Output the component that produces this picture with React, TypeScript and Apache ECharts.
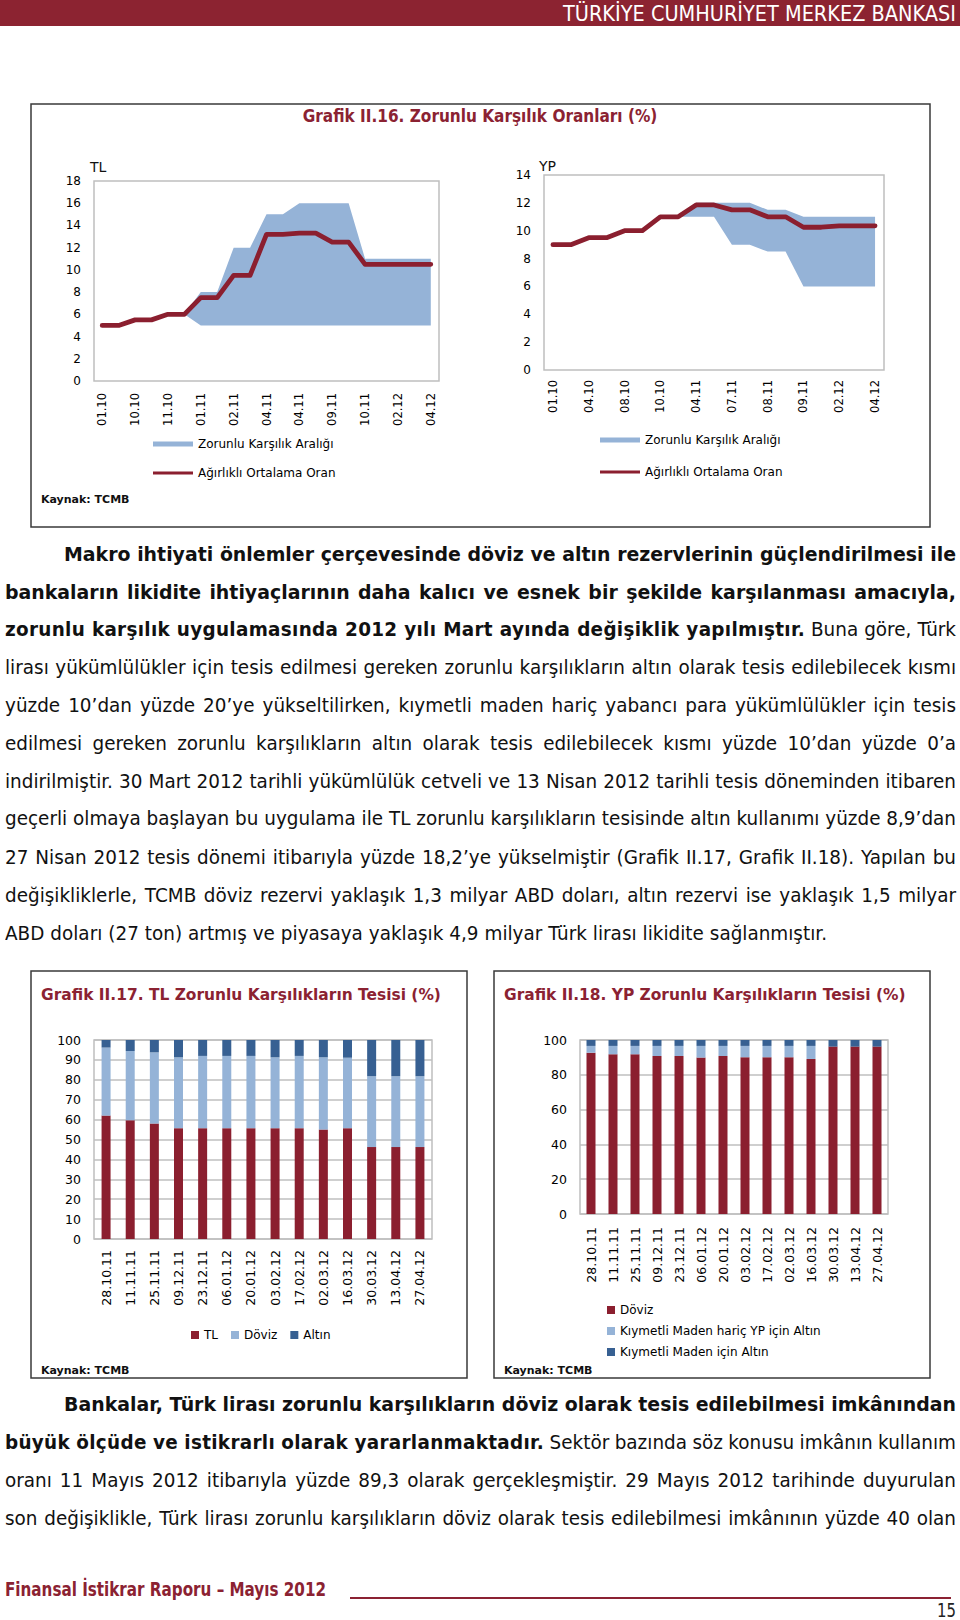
import React, { useEffect, useLayoutEffect, useRef, useState } from 'react';
import * as echarts from 'echarts';

const FONT = "'DejaVu Sans', Verdana, sans-serif";
const RED = '#8B1F2F';
const TITLE_RED = '#8B2232';
const HEADER_RED = '#8C2331';
const LIGHT_BLUE = '#95B3D7';
const DARK_BLUE = '#376092';
const GRID_GRAY = '#BFBFBF';

// ---------- Grafik II.16 (TL) ----------
const TL_DATES = ['01.10', '01.10', '10.10', '10.10', '11.10', '11.10', '01.11', '01.11', '02.11', '02.11', '04.11', '04.11', '04.11', '04.11', '09.11', '09.11', '10.11', '10.11', '02.12', '02.12', '04.12'];
const TL_AVG = [5.0, 5.0, 5.5, 5.5, 6.0, 6.0, 7.5, 7.5, 9.5, 9.5, 13.2, 13.2, 13.3, 13.3, 12.5, 12.5, 10.5, 10.5, 10.5, 10.5, 10.5];
const TL_RANGE_LOW = [null, null, null, null, null, 6, 5, 5, 5, 5, 5, 5, 5, 5, 5, 5, 5, 5, 5, 5, 5];
const TL_RANGE_HIGH = [null, null, null, null, null, 6, 8, 8, 12, 12, 15, 15, 16, 16, 16, 16, 11, 11, 11, 11, 11];
const TL_Y_TICKS = { min: 0, max: 18, interval: 2 };

// ---------- Grafik II.16 (YP) ----------
const YP_DATES = ['01.10', '01.10', '04.10', '04.10', '08.10', '08.10', '10.10', '10.10', '04.11', '04.11', '07.11', '07.11', '08.11', '08.11', '09.11', '09.11', '02.12', '02.12', '04.12'];
const YP_AVG = [9.0, 9.0, 9.5, 9.5, 10.0, 10.0, 11.0, 11.0, 11.85, 11.85, 11.5, 11.5, 11.0, 11.0, 10.25, 10.25, 10.35, 10.35, 10.35];
const YP_RANGE_LOW = [null, null, null, null, null, null, null, 11, 11, 11, 9, 9, 8.5, 8.5, 6, 6, 6, 6, 6];
const YP_RANGE_HIGH = [null, null, null, null, null, null, null, 11, 12, 12, 12, 12, 11.5, 11.5, 11, 11, 11, 11, 11];
const YP_Y_TICKS = { min: 0, max: 14, interval: 2 };

// ---------- Grafik II.17 / II.18 ----------
const TESIS_DATES = ['28.10.11', '11.11.11', '25.11.11', '09.12.11', '23.12.11', '06.01.12', '20.01.12', '03.02.12', '17.02.12', '02.03.12', '16.03.12', '30.03.12', '13.04.12', '27.04.12'];
const TLT_TL = [62.0, 59.7, 58.0, 55.7, 55.7, 55.7, 55.7, 55.7, 55.7, 55.0, 55.7, 46.2, 46.2, 46.2];
const TLT_DOVIZ = [34.2, 34.8, 35.8, 35.6, 36.3, 36.3, 36.3, 35.6, 36.3, 36.3, 35.4, 35.6, 35.6, 35.6];
const TLT_ALTIN = [3.8, 5.5, 6.2, 8.7, 8.0, 8.0, 8.0, 8.7, 8.0, 8.7, 8.9, 18.2, 18.2, 18.2];

const YPT_DOVIZ = [92.7, 91.8, 91.8, 90.8, 90.8, 89.9, 90.8, 90.1, 90.1, 90.1, 89.1, 96.2, 96.2, 96.2];
const YPT_KM_HARIC = [3.9, 4.8, 4.8, 5.8, 5.8, 6.7, 5.8, 6.5, 6.5, 6.5, 7.5, 0, 0, 0];
const YPT_KM = [3.4, 3.4, 3.4, 3.4, 3.4, 3.4, 3.4, 3.4, 3.4, 3.4, 3.4, 3.8, 3.8, 3.8];

const N_BAND = 'Zorunlu Karşılık Aralığı';
const N_AVG = 'Ağırlıklı Ortalama Oran';

function textWidth(text: string, font: string): number {
  const c = document.createElement('canvas').getContext('2d');
  if (!c) return 1;
  c.font = font;
  return c.measureText(text).width || 1;
}

function fitTitle(text: string, x: number, y: number, w: number, size: number, align: string) {
  const font = `bold ${size}px "DejaVu Sans"`;
  const sx = w / textWidth(text, font);
  return {
    type: 'text', x, y, scaleX: sx, silent: true,
    style: { text, font, fill: TITLE_RED, align, textAlign: align, verticalAlign: 'middle', textVerticalAlign: 'middle' },
  };
}

function plainText(text: string, x: number, y: number, size: number, bold = false, align = 'left') {
  return {
    type: 'text', x, y, silent: true,
    style: { text, font: `${bold ? 'bold ' : ''}${size}px "DejaVu Sans"`, fill: '#111', align, textAlign: align, verticalAlign: 'middle', textVerticalAlign: 'middle' },
  };
}

function boxRect(x: number, y: number, w: number, h: number) {
  return { type: 'rect', silent: true, shape: { x, y, width: w, height: h }, style: { fill: 'none', stroke: '#3A3A3A', lineWidth: 1.5 } };
}

const bandDiff = (hi: (number | null)[], lo: (number | null)[]) =>
  hi.map((h, i) => (h == null || lo[i] == null ? null : Math.round((h - (lo[i] as number)) * 100) / 100));

const labelStyle = (size: number) => ({ fontFamily: FONT, fontSize: size, color: '#000' });

function buildTop() {
  const legendBase = {
    selectedMode: false, icon: 'rect', itemWidth: 40, padding: 0, orient: 'horizontal',
    textStyle: labelStyle(12), itemStyle: { borderWidth: 0 },
  };
  const catAxis = (gi: number, data: string[], margin: number) => ({
    type: 'category', gridIndex: gi, data, boundaryGap: true,
    axisLine: { show: false }, axisTick: { show: false }, splitLine: { show: false },
    axisLabel: { interval: 1, rotate: 90, margin, ...labelStyle(11.5) },
  });
  const valAxis = (gi: number, t: { min: number; max: number; interval: number }) => ({
    type: 'value', gridIndex: gi, min: t.min, max: t.max, interval: t.interval,
    axisLine: { show: false }, axisTick: { show: false }, splitLine: { show: false },
    axisLabel: { margin: 13, ...labelStyle(12) },
  });
  const bandSeries = (idx: number, stack: string, lo: (number | null)[], hi: (number | null)[]) => [
    {
      name: '_low' + stack, type: 'line', xAxisIndex: idx, yAxisIndex: idx, stack, data: lo,
      symbol: 'none', silent: true, lineStyle: { opacity: 0, width: 0 }, areaStyle: { opacity: 0 }, itemStyle: { color: LIGHT_BLUE },
    },
    {
      name: N_BAND, type: 'line', xAxisIndex: idx, yAxisIndex: idx, stack, data: bandDiff(hi, lo),
      symbol: 'none', silent: true, lineStyle: { width: 0, color: LIGHT_BLUE }, itemStyle: { color: LIGHT_BLUE },
      areaStyle: { color: LIGHT_BLUE, opacity: 1 },
    },
  ];
  const avgSeries = (idx: number, data: number[]) => ({
    name: N_AVG, type: 'line', xAxisIndex: idx, yAxisIndex: idx, data, symbol: 'none', silent: true, z: 5,
    lineStyle: { width: 4.8, color: RED, join: 'round', cap: 'round' }, itemStyle: { color: RED },
  });
  return {
    animation: false,
    grid: [
      { left: 94, top: 81, width: 345, height: 200, show: true, borderColor: GRID_GRAY, borderWidth: 1.5, outerBoundsMode: 'none' },
      { left: 544, top: 75, width: 340, height: 195, show: true, borderColor: GRID_GRAY, borderWidth: 1.5, outerBoundsMode: 'none' },
    ],
    xAxis: [catAxis(0, TL_DATES, 12), catAxis(1, YP_DATES, 10)],
    yAxis: [valAxis(0, TL_Y_TICKS), valAxis(1, YP_Y_TICKS)],
    legend: [
      { ...legendBase, left: 153, top: 338, itemHeight: 5, data: [{ name: N_BAND, itemStyle: { color: LIGHT_BLUE, borderWidth: 0 } }] },
      { ...legendBase, left: 153, top: 367, itemHeight: 3, data: [{ name: N_AVG, itemStyle: { color: RED, borderWidth: 0 } }] },
      { ...legendBase, left: 600, top: 334, itemHeight: 5, data: [{ name: N_BAND, itemStyle: { color: LIGHT_BLUE, borderWidth: 0 } }] },
      { ...legendBase, left: 600, top: 366, itemHeight: 3, data: [{ name: N_AVG, itemStyle: { color: RED, borderWidth: 0 } }] },
    ],
    series: [
      ...bandSeries(0, 'tl', TL_RANGE_LOW, TL_RANGE_HIGH),
      avgSeries(0, TL_AVG),
      ...bandSeries(1, 'yp', YP_RANGE_LOW, YP_RANGE_HIGH),
      avgSeries(1, YP_AVG),
    ],
    graphic: {
      elements: [
        boxRect(31, 4, 899, 423),
        fitTitle('Grafik II.16. Zorunlu Karşılık Oranları (%)', 480, 16, 355, 17, 'center'),
        plainText('TL', 90, 67, 14),
        plainText('YP', 539, 66, 14),
        plainText('Kaynak: TCMB', 41, 399, 11, true),
      ],
    },
  };
}

function buildBars(opts: {
  boxX: number; titleX: number; title: string; titleW: number;
  grid: { left: number; top: number; width: number; height: number };
  yInterval: number; xMargin: number;
  series: { name: string; data: number[]; color: string }[];
  legend: any;
}) {
  return {
    animation: false,
    grid: { ...opts.grid, show: true, borderColor: GRID_GRAY, borderWidth: 1.5, outerBoundsMode: 'none' },
    xAxis: {
      type: 'category', data: TESIS_DATES, axisLine: { show: false }, axisTick: { show: false },
      axisLabel: { interval: 0, rotate: 90, margin: opts.xMargin, ...labelStyle(12.5) },
    },
    yAxis: {
      type: 'value', min: 0, max: 100, interval: opts.yInterval,
      axisLine: { show: false }, axisTick: { show: false },
      splitLine: { show: true, lineStyle: { color: GRID_GRAY, width: 1.5 } },
      axisLabel: { margin: 13, ...labelStyle(12.5) },
    },
    legend: {
      selectedMode: false, icon: 'rect', itemWidth: 8, itemHeight: 8, padding: 0,
      textStyle: labelStyle(12), itemStyle: { borderWidth: 0 },
      data: opts.series.map((s) => ({ name: s.name, itemStyle: { color: s.color, borderWidth: 0 } })),
      ...opts.legend,
    },
    series: opts.series.map((s) => ({
      name: s.name, type: 'bar', stack: 'total', data: s.data, barWidth: 9, silent: true,
      itemStyle: { color: s.color },
    })),
    graphic: {
      elements: [
        boxRect(opts.boxX, 11, 436, 407),
        fitTitle(opts.title, opts.titleX, 35, opts.titleW, 15, 'left'),
        plainText('Kaynak: TCMB', opts.titleX, 410, 11, true),
      ],
    },
  };
}

function buildTLBars() {
  return buildBars({
    boxX: 31, titleX: 41, title: 'Grafik II.17. TL Zorunlu Karşılıkların Tesisi (%)', titleW: 400,
    grid: { left: 94, top: 80, width: 338, height: 199 }, yInterval: 10, xMargin: 11,
    series: [
      { name: 'TL', data: TLT_TL, color: RED },
      { name: 'Döviz', data: TLT_DOVIZ, color: LIGHT_BLUE },
      { name: 'Altın', data: TLT_ALTIN, color: DARK_BLUE },
    ],
    legend: { orient: 'horizontal', left: 191, top: 369, itemGap: 13 },
  });
}

function buildYPBars() {
  return buildBars({
    boxX: 14, titleX: 24, title: 'Grafik II.18. YP Zorunlu Karşılıkların Tesisi (%)', titleW: 402,
    grid: { left: 100, top: 80, width: 308, height: 174 }, yInterval: 20, xMargin: 13,
    series: [
      { name: 'Döviz', data: YPT_DOVIZ, color: RED },
      { name: 'Kıymetli Maden hariç YP için Altın', data: YPT_KM_HARIC, color: LIGHT_BLUE },
      { name: 'Kıymetli Maden için Altın', data: YPT_KM, color: DARK_BLUE },
    ],
    legend: { orient: 'vertical', left: 127, top: 344, itemGap: 9 },
  });
}

function EChart({ left, top, width, height, build }: { left: number; top: number; width: number; height: number; build: () => any }) {
  const ref = useRef<HTMLDivElement>(null);
  useEffect(() => {
    const chart = echarts.init(ref.current as HTMLDivElement, null, { renderer: 'svg' });
    chart.setOption(build());
    return () => chart.dispose();
  }, []);
  return <div ref={ref} style={{ position: 'absolute', left, top, width, height }} />;
}

// ---------- text ----------
type Seg = { t: string; b?: boolean };
type TLine = { segs: Seg[]; x: number; cy: number; w: number; justify: boolean };

const P = (t: string): Seg => ({ t });
const B = (t: string): Seg => ({ t, b: true });

const TEXT_LINES: TLine[] = [
  { segs: [B('Makro ihtiyati önlemler çerçevesinde döviz ve altın rezervlerinin güçlendirilmesi ile')], x: 64, cy: 554, w: 892, justify: true },
  { segs: [B('bankaların likidite ihtiyaçlarının daha kalıcı ve esnek bir şekilde karşılanması amacıyla,')], x: 5, cy: 592, w: 951, justify: true },
  { segs: [B('zorunlu karşılık uygulamasında 2012 yılı Mart ayında değişiklik yapılmıştır.'), P(' Buna göre, Türk')], x: 5, cy: 629, w: 951, justify: true },
  { segs: [P('lirası yükümlülükler için tesis edilmesi gereken zorunlu karşılıkların altın olarak tesis edilebilecek kısmı')], x: 5, cy: 667, w: 951, justify: true },
  { segs: [P('yüzde 10’dan yüzde 20’ye yükseltilirken, kıymetli maden hariç yabancı para yükümlülükler için tesis')], x: 5, cy: 705, w: 951, justify: true },
  { segs: [P('edilmesi gereken zorunlu karşılıkların altın olarak tesis edilebilecek kısmı yüzde 10’dan yüzde 0’a')], x: 5, cy: 743, w: 951, justify: true },
  { segs: [P('indirilmiştir. 30 Mart 2012 tarihli yükümlülük cetveli ve 13 Nisan 2012 tarihli tesis döneminden itibaren')], x: 5, cy: 781, w: 951, justify: true },
  { segs: [P('geçerli olmaya başlayan bu uygulama ile TL zorunlu karşılıkların tesisinde altın kullanımı yüzde 8,9’dan')], x: 5, cy: 818, w: 951, justify: true },
  { segs: [P('27 Nisan 2012 tesis dönemi itibarıyla yüzde 18,2’ye yükselmiştir (Grafik II.17, Grafik II.18). Yapılan bu')], x: 5, cy: 857, w: 951, justify: true },
  { segs: [P('değişikliklerle, TCMB döviz rezervi yaklaşık 1,3 milyar ABD doları, altın rezervi ise yaklaşık 1,5 milyar')], x: 5, cy: 895, w: 951, justify: true },
  { segs: [P('ABD doları (27 ton) artmış ve piyasaya yaklaşık 4,9 milyar Türk lirası likidite sağlanmıştır.')], x: 5, cy: 933, w: 822, justify: true },
  { segs: [B('Bankalar, Türk lirası zorunlu karşılıkların döviz olarak tesis edilebilmesi imkânından')], x: 64, cy: 1404, w: 892, justify: true },
  { segs: [B('büyük ölçüde ve istikrarlı olarak yararlanmaktadır.'), P(' Sektör bazında söz konusu imkânın kullanım')], x: 5, cy: 1442, w: 951, justify: true },
  { segs: [P('oranı 11 Mayıs 2012 itibarıyla yüzde 89,3 olarak gerçekleşmiştir. 29 Mayıs 2012 tarihinde duyurulan')], x: 5, cy: 1480, w: 951, justify: true },
  { segs: [P('son değişiklikle, Türk lirası zorunlu karşılıkların döviz olarak tesis edilebilmesi imkânının yüzde 40 olan')], x: 5, cy: 1518, w: 951, justify: true },
];

type Fit = { s: number[]; ws: number[]; ls: number[] };

function TextBlock({ lines, fontSize, lh }: { lines: TLine[]; fontSize: number; lh: number }) {
  const refs = useRef<(HTMLSpanElement | null)[][]>([]);
  const [fit, setFit] = useState<Fit | null>(null);
  useLayoutEffect(() => {
    const segW = lines.map((l, i) => l.segs.map((_, j) => refs.current[i]?.[j]?.getBoundingClientRect().width || 0));
    const total = (i: number) => segW[i].reduce((a, b) => a + b, 0) || 1;
    const allReg = (l: TLine) => l.segs.every((g) => !g.b);
    const allBold = (l: TLine) => l.segs.every((g) => g.b);
    let sR = 1;
    let sB = 1;
    lines.forEach((l, i) => {
      if (!l.justify) return;
      if (allReg(l)) sR = Math.min(sR, l.w / total(i));
      if (allBold(l)) sB = Math.min(sB, l.w / total(i));
    });
    const s: number[] = [];
    const ws: number[] = [];
    const ls: number[] = [];
    lines.forEach((l, i) => {
      const text = l.segs.map((g) => g.t).join('');
      const spaces = text.split(' ').length - 1;
      if (allBold(l)) {
        s.push(sB);
        ls.push(0);
        ws.push(l.justify && spaces ? (l.w / sB - total(i)) / spaces : 0);
      } else if (allReg(l)) {
        s.push(sR);
        ls.push(0);
        ws.push(l.justify && spaces ? (l.w / sR - total(i)) / spaces : 0);
      } else {
        let boldW = 0;
        let boldChars = 0;
        let regW = 0;
        l.segs.forEach((g, j) => {
          if (g.b) { boldW += segW[i][j]; boldChars += g.t.length; } else regW += segW[i][j];
        });
        const lsv = boldChars ? ((sB / sR - 1) * boldW) / boldChars : 0;
        const width = regW + boldW * (sB / sR);
        s.push(sR);
        ls.push(lsv);
        ws.push(l.justify && spaces ? (l.w / sR - width) / spaces : 0);
      }
    });
    setFit({ s, ws, ls });
  }, []);
  return (
    <>
      {lines.map((l, i) => (
        <div
          key={i}
          style={{
            position: 'absolute', left: l.x, top: l.cy - lh / 2, height: lh, lineHeight: lh + 'px',
            whiteSpace: 'nowrap', fontFamily: FONT, fontSize, color: '#111',
            transformOrigin: '0 50%', transform: fit ? `scaleX(${fit.s[i]})` : undefined,
            wordSpacing: fit ? fit.ws[i] : 0,
          }}
        >
          {l.segs.map((g, j) => (
            <span
              key={j}
              ref={(el) => {
                if (!refs.current[i]) refs.current[i] = [];
                refs.current[i][j] = el;
              }}
              style={{ fontWeight: g.b ? 'bold' : 'normal', letterSpacing: fit && g.b ? fit.ls[i] : 0 }}
            >
              {g.t}
            </span>
          ))}
        </div>
      ))}
    </>
  );
}

function FitText({ text, left, cy, w, fontSize, bold, color }: { text: string; left: number; cy: number; w: number; fontSize: number; bold?: boolean; color: string }) {
  const ref = useRef<HTMLSpanElement>(null);
  const [s, setS] = useState<number | null>(null);
  useLayoutEffect(() => {
    const n = ref.current ? ref.current.getBoundingClientRect().width : w;
    setS(w / (n || 1));
  }, []);
  return (
    <div
      style={{
        position: 'absolute', left, top: cy - fontSize, height: fontSize * 2, lineHeight: fontSize * 2 + 'px',
        whiteSpace: 'nowrap', fontFamily: FONT, fontSize, fontWeight: bold ? 'bold' : 'normal', color,
        transformOrigin: '0 50%', transform: s ? `scaleX(${s})` : undefined,
      }}
    >
      <span ref={ref} style={{ display: 'inline-block' }}>{text}</span>
    </div>
  );
}

export default function App() {
  return (
    <div style={{ position: 'absolute', left: 0, top: 0, width: 960, height: 1620, background: '#fff', overflow: 'hidden' }}>
      <div style={{ position: 'absolute', left: 0, top: 0, width: 960, height: 26, background: HEADER_RED }} />
      <FitText text="TÜRKİYE CUMHURİYET MERKEZ BANKASI" left={563} cy={14} w={393} fontSize={22} color="#fff" />
      <EChart left={0} top={100} width={960} height={440} build={buildTop} />
      <TextBlock lines={TEXT_LINES} fontSize={20} lh={26} />
      <EChart left={0} top={960} width={480} height={430} build={buildTLBars} />
      <EChart left={480} top={960} width={480} height={430} build={buildYPBars} />
      <FitText text="Finansal İstikrar Raporu – Mayıs 2012" left={5} cy={1589} w={321} fontSize={19} bold color={TITLE_RED} />
      <div style={{ position: 'absolute', left: 350, top: 1597, width: 601, height: 1.5, background: TITLE_RED }} />
      <FitText text="15" left={937} cy={1610} w={19} fontSize={19} color="#222" />
    </div>
  );
}
